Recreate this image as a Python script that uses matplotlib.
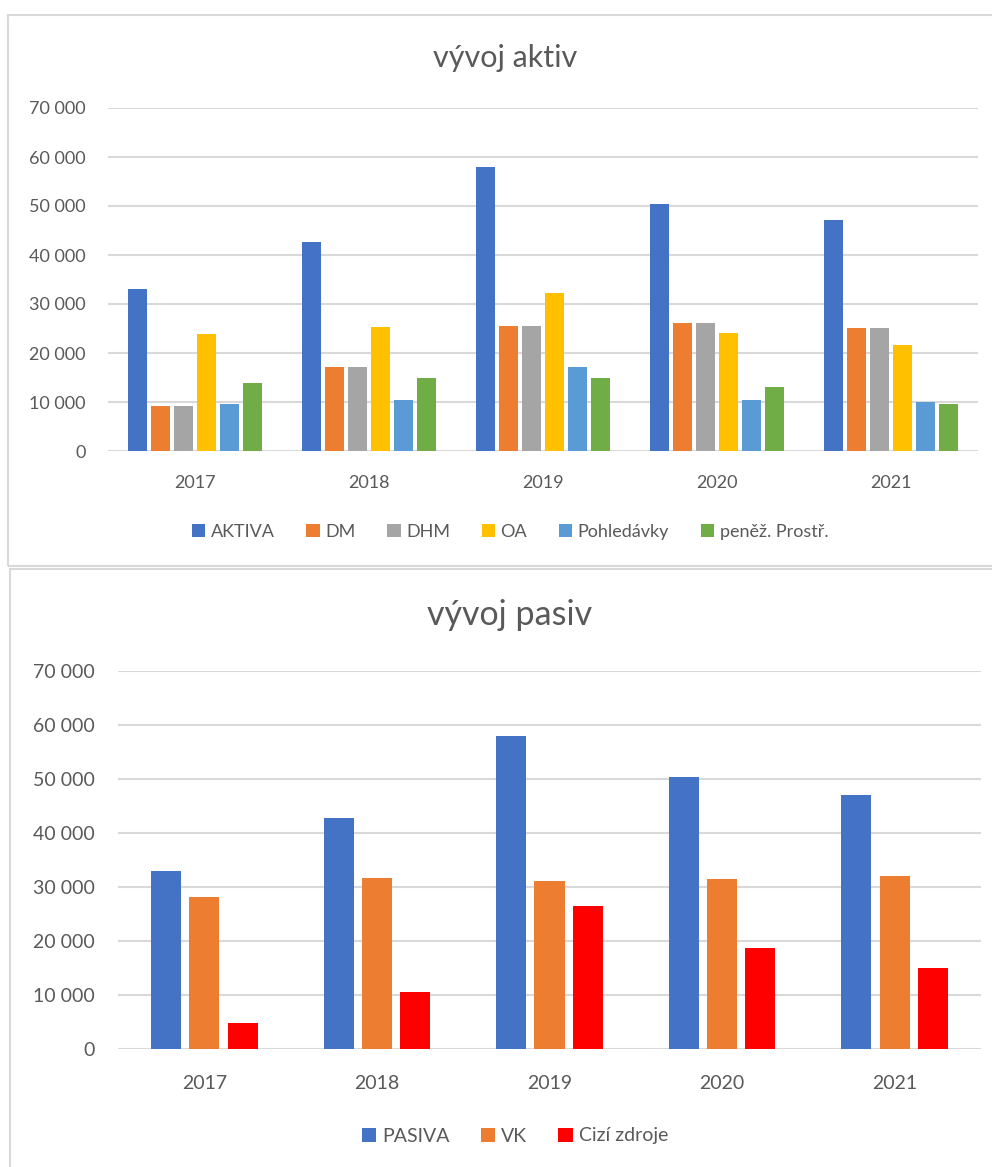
import numpy as np
import matplotlib.pyplot as plt
from matplotlib.patches import Rectangle
from matplotlib.ticker import FuncFormatter, MultipleLocator

plt.rcParams['font.family'] = ['Lato', 'DejaVu Sans']

years = ["2017", "2018", "2019", "2020", "2021"]

# vývoj aktiv
aktiva = [33000, 42700, 57900, 50500, 47100]
dm = [9200, 17100, 25600, 26100, 25100]
dhm = [9200, 17100, 25600, 26100, 25100]
oa = [23800, 25300, 32200, 24000, 21700]
pohledavky = [9600, 10400, 17100, 10400, 9900]
penez = [13800, 14800, 14800, 13000, 9600]

# vývoj pasiv
pasiva = [33000, 42700, 57900, 50300, 47000]
vk = [28100, 31700, 31200, 31500, 32000]
cizi = [4800, 10600, 26400, 18700, 15000]

aktiva_names = ["AKTIVA", "DM", "DHM", "OA", "Pohledávky", "peněž. Prostř."]
aktiva_colors = ["#4472C4", "#ED7D31", "#A5A5A5", "#FFC000", "#5B9BD5", "#70AD47"]
pasiva_names = ["PASIVA", "VK", "Cizí zdroje"]
pasiva_colors = ["#4472C4", "#ED7D31", "#FF0000"]

text_col = "#595959"
grid_col = "#D9D9D9"

W, H = 992, 1167
fig = plt.figure(figsize=(W / 100, H / 100), dpi=100)


def px_axes(x0, y0, x1, y1):
    # pixel box (top-left origin) -> figure fraction
    return fig.add_axes([x0 / W, 1 - y1 / H, (x1 - x0) / W, (y1 - y0) / H])


def thousands(v, pos):
    return f"{int(v):,}".replace(",", " ")


def bar_chart(ax, series, names, colors, slot, width, fs, ypad, xpad):
    x = np.arange(len(years))
    n = len(series)
    for i, (vals, name, col) in enumerate(zip(series, names, colors)):
        ax.bar(x + (i - (n - 1) / 2) * slot, vals, width, color=col, label=name, zorder=3)
    ax.set_xlim(-0.5, len(years) - 0.5)
    ax.set_ylim(0, 70000)
    ax.yaxis.set_major_locator(MultipleLocator(10000))
    ax.yaxis.set_major_formatter(FuncFormatter(thousands))
    ax.set_xticks(x)
    ax.set_xticklabels(years)
    ax.grid(axis="y", color=grid_col, linewidth=1.5, zorder=0)
    ax.axhline(0, color=grid_col, linewidth=1.8, zorder=2)
    for s in ax.spines.values():
        s.set_visible(False)
    ax.tick_params(axis="both", length=0, labelsize=fs, colors=text_col)
    ax.tick_params(axis="y", pad=ypad)
    ax.tick_params(axis="x", pad=xpad)


# chart frames
fig.patches.append(Rectangle((8, H - 566), W, 551, transform=None, fill=False,
                             edgecolor=grid_col, linewidth=1.5))
fig.patches.append(Rectangle((10, -5), W, H - 569 + 5, transform=None, fill=False,
                             edgecolor=grid_col, linewidth=1.5))

ax1 = px_axes(108, 108, 978, 451)
bar_chart(ax1, [aktiva, dm, dhm, oa, pohledavky, penez], aktiva_names, aktiva_colors,
          0.132, 0.109, 13, 16, 17)
fig.text(505 / W, 1 - 58 / H, "vývoj aktiv", ha="center", va="center",
         fontsize=22, color=text_col)
h1, l1 = ax1.get_legend_handles_labels()
fig.legend(h1, l1, loc="center", bbox_to_anchor=(510 / W, 1 - 532 / H), ncol=6,
           frameon=False, fontsize=13, labelcolor=text_col, handlelength=0.75,
           handleheight=0.75, handletextpad=0.3, columnspacing=1.75)

ax2 = px_axes(118, 671, 981, 1049)
bar_chart(ax2, [pasiva, vk, cizi], pasiva_names, pasiva_colors,
          0.222, 0.174, 14, 17, 19)
fig.text(510 / W, 1 - 615 / H, "vývoj pasiv", ha="center", va="center",
         fontsize=24.5, color=text_col)
h2, l2 = ax2.get_legend_handles_labels()
fig.legend(h2, l2, loc="center", bbox_to_anchor=(515 / W, 1 - 1136 / H), ncol=3,
           frameon=False, fontsize=14, labelcolor=text_col, handlelength=0.75,
           handleheight=0.75, handletextpad=0.3, columnspacing=1.6)

fig.savefig("out.png", dpi=100)
